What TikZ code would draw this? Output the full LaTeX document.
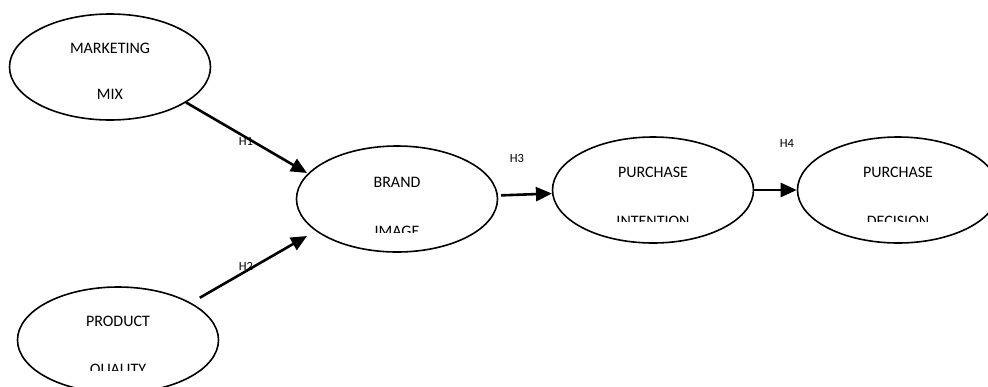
\documentclass[tikz,border=0pt]{standalone}
\usepackage{fontspec}
\setmainfont{Carlito}
\usetikzlibrary{arrows.meta}
\usetikzlibrary{shapes.geometric}

\begin{document}
\begin{tikzpicture}[x=1pt,y=-1pt,
        bubble/.style={draw, ellipse, line width=1.6pt, minimum width=201pt, minimum height=106pt, inner sep=0pt},
        word/.style={font=\fontsize{16}{18}\selectfont, inner sep=0pt},
        hyp/.style={font=\fontsize{12.5}{15}\selectfont, inner sep=0pt},
        link/.style={line width=2.6pt, -{Triangle[length=16pt,width=14pt]}}]
                \clip (0,0) rectangle (988,386);
                % ellipses
                \node[bubble] (mm) at (110,67) {};
                \node[bubble] (bi) at (397,199) {};
                \node[bubble] (pi) at (653,190) {};
                \node[bubble] (di) at (898,190) {};
                \node[bubble] (pq) at (118,340) {};
                % texts
                \node[word] (mm1) at (110,48) {MARKETING};
                \node[word] (mm2) at (110,94) {MIX};
                \node[word] (bi1) at (397,182) {BRAND};
                \node[word] (pi1) at (653,172) {PURCHASE};
                \node[word] (di1) at (898,172) {PURCHASE};
                \node[word] (pq1) at (118,321) {PRODUCT};
                \begin{scope}
                    \clip (290,120) rectangle (500,232);
                    \node[word] (bi2) at (397,231) {IMAGE};
                \end{scope}
                \begin{scope}
                    \clip (550,120) rectangle (990,221);
                    \node[word] (pi2) at (653,221) {INTENTION};
                    \node[word] (di2) at (898,221) {DECISION};
                \end{scope}
                \begin{scope}
                    \clip (10,280) rectangle (230,370);
                    \node[word] (pq2) at (118,370) {QUALITY};
                \end{scope}
                % hypotheses
                \coordinate (bi-in1) at (307,173);
                \coordinate (bi-in2) at (307,236);
                \draw[link] (mm.-25) -- (bi-in1);
                \draw[link, shorten <=10pt] (pq.27) -- (bi-in2);
                \draw[link, shorten <=3pt] (bi.2) -- (pi.182);
                \draw[link] (pi.east) -- (di.west);
                \node[hyp] (h1) at (246,141) {H1};
                \node[hyp] (h2) at (246,266) {H2};
                \node[hyp] (h3) at (517,158) {H3};
                \node[hyp] (h4) at (787,143) {H4};
            \end{tikzpicture}
\end{document}
